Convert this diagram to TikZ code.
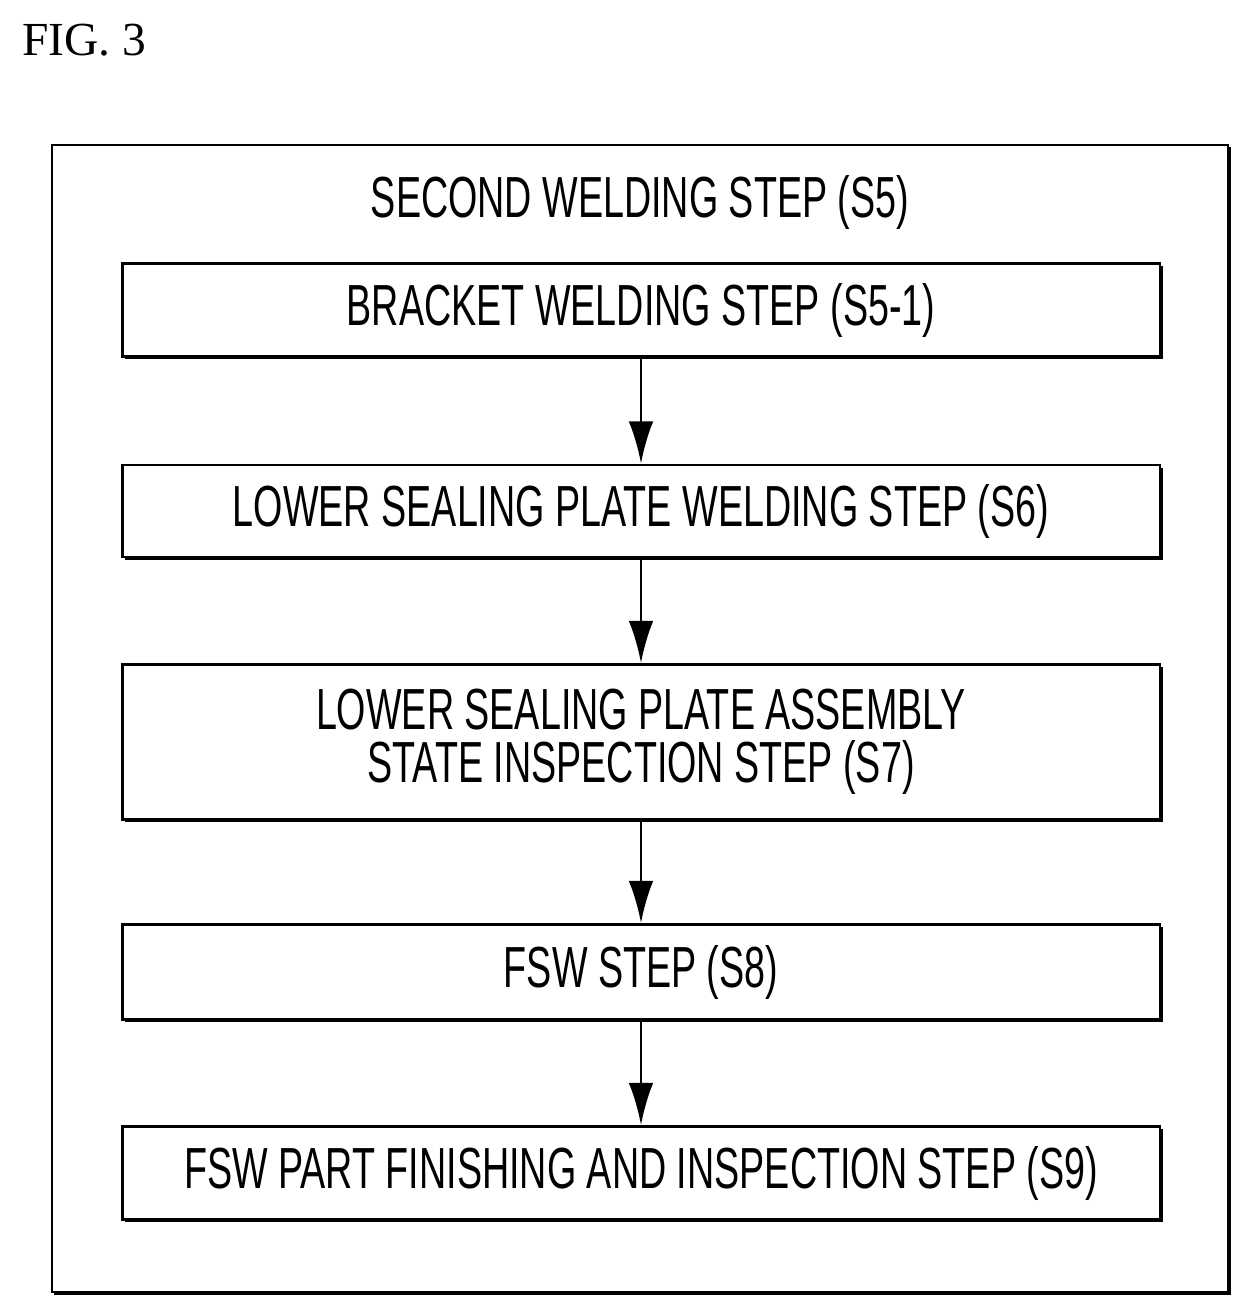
\documentclass[tikz,border=0pt]{standalone}
\usepackage{fontspec}
\setmainfont{Liberation Serif}
\newfontfamily\stepfont[FakeStretch=0.65]{Liberation Sans}
\usetikzlibrary{arrows.meta}

\begin{document}
\begin{tikzpicture}[x=0.02cm,y=-0.02cm,
    stepbox/.style={draw,line width=1.6pt,minimum width=20.76cm,align=center,
      font=\stepfont\fontsize{33}{30}\selectfont,
      preaction={fill=black,transform canvas={xshift=1.6pt,yshift=-1.6pt}},fill=white},
    flow/.style={line width=1.6pt,-{Latex[length=24pt,width=14pt]}}
  ]
    \useasboundingbox (0,0) rectangle (1254,1316);
    \node[font=\fontsize{27}{27}\selectfont,anchor=west] (fig) at (16,40) {FIG. 3};
    \draw[line width=1.6pt] (52,145) rectangle (1228,1292);
    \draw[line width=1.6pt] (54,1294) -- (1230,1294) -- (1230,147);
    \node[font=\stepfont\fontsize{33}{33}\selectfont] (title) at (640,202) {SECOND WELDING STEP (S5)};
    % process steps
    \node[stepbox,minimum height=1.86cm] (s51) at (641,310) {BRACKET WELDING STEP (S5-1)};
    \node[stepbox,minimum height=1.84cm] (s6) at (641,511) {LOWER SEALING PLATE WELDING STEP (S6)};
    \node[stepbox,minimum height=3.1cm] (s7) at (641,742) {LOWER SEALING PLATE ASSEMBLY\\STATE INSPECTION STEP (S7)};
    \node[stepbox,minimum height=1.9cm] (s8) at (641,972) {FSW STEP (S8)};
    \node[stepbox,minimum height=1.86cm] (s9) at (641,1173) {FSW PART FINISHING AND INSPECTION STEP (S9)};
    \draw[flow] (s51) -- (s6);
    \draw[flow] (s6) -- (s7);
    \draw[flow] (s7) -- (s8);
    \draw[flow] (s8) -- (s9);
\end{tikzpicture}
\end{document}
